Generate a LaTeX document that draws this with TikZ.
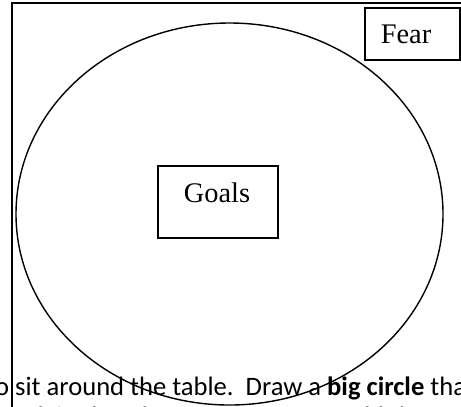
\documentclass[tikz,border=0pt]{standalone}
\usepackage{fontspec}
\usetikzlibrary{shapes.geometric}
\setmainfont{Liberation Serif}
\newfontfamily\bodyfont{Carlito}
\begin{document}
\begin{tikzpicture}[x=1bp,y=-1bp,
  line/.style={line width=1.5bp,black},
  boxnode/.style={draw,line width=1.3bp,inner sep=0pt,fill=white},
  boxtext/.style={inner sep=0pt,font=\fontsize{28.5}{32}\selectfont},
  bodytext/.style={inner sep=0pt,anchor=base west,font=\bodyfont\fontsize{26.7}{32}\selectfont}]
\useasboundingbox (0,0) rectangle (461,406);
\clip (0,0) rectangle (461,406);
\fill[white] (0,0) rectangle (461,406);
% body text of the page
\node[bodytext] (l1) at (-5,395) {o sit around the table.\ \ Draw a \textbf{big circle} that};
\node[bodytext] (l2) at (-1,425) {Explain that the group wants to add the \textbf{number of the}};
% outer frame
\coordinate (fbot) at (12,520);
\coordinate (ftl) at (12,3);
\coordinate (ftr) at (470,3);
\draw[line] (fbot) -- (ftl) -- (ftr);
% big ellipse
\node[draw,line width=1.4bp,ellipse,inner sep=0pt,minimum width=427bp,minimum height=382bp] (circ) at (229.5,214) {};
% boxes
\node[boxnode,minimum width=120bp,minimum height=72bp] (goals) at (218,202) {};
\node[boxtext,anchor=base] (goalstext) at (217,202) {Goals};
\node[boxnode,minimum width=95bp,minimum height=52bp] (fear) at (412.5,34) {};
\node[boxtext,anchor=base] (feartext) at (406,43) {Fear};
\end{tikzpicture}
\end{document}
